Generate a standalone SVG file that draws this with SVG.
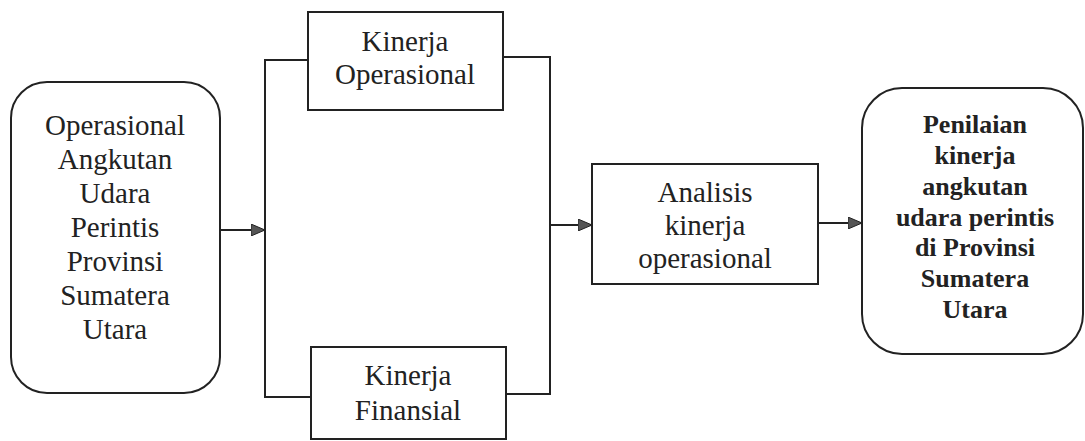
<svg xmlns="http://www.w3.org/2000/svg" width="1085" height="441" viewBox="0 0 1085 441">
<style>
.box{fill:#fff;stroke:#222;stroke-width:2}
.ln{fill:none;stroke:#222;stroke-width:2}
.t{font-family:"Liberation Serif","Times New Roman",serif;font-size:29px;fill:#222;text-anchor:middle}
.b{font-family:"Liberation Serif","Times New Roman",serif;font-size:26px;font-weight:bold;fill:#222;text-anchor:middle}
</style>
<defs>
<marker id="ah" markerWidth="14" markerHeight="12" refX="14" refY="6" orient="auto" markerUnits="userSpaceOnUse">
<path d="M0,0 L14,6 L0,12 Z" fill="#555" stroke="#222" stroke-width="1"/>
</marker>
</defs>
<rect width="1085" height="441" fill="#fff"/>
<g id="connectors">
<line class="ln" x1="220" y1="230" x2="265" y2="230" marker-end="url(#ah)"/>
<polyline class="ln" points="308,60 265,60 265,397 311,397"/>
<polyline class="ln" points="503,57 550,57 550,394 506,394"/>
<line class="ln" x1="550" y1="225" x2="592" y2="225" marker-end="url(#ah)"/>
<line class="ln" x1="818" y1="223" x2="862" y2="223" marker-end="url(#ah)"/>
</g>
<g id="n-source">
<rect class="box" x="11" y="82" width="209" height="311" rx="36" ry="36"/>
<text class="t" x="115" y="135">Operasional</text>
<text class="t" x="115" y="169">Angkutan</text>
<text class="t" x="115" y="203">Udara</text>
<text class="t" x="115" y="237">Perintis</text>
<text class="t" x="115" y="271">Provinsi</text>
<text class="t" x="115" y="305">Sumatera</text>
<text class="t" x="115" y="339">Utara</text>
</g>
<g id="n-operasional">
<rect class="box" x="308" y="12" width="195" height="98"/>
<text class="t" x="405" y="51">Kinerja</text>
<text class="t" x="405" y="84">Operasional</text>
</g>
<g id="n-finansial">
<rect class="box" x="311" y="347" width="195" height="92"/>
<text class="t" x="408" y="385">Kinerja</text>
<text class="t" x="408" y="420">Finansial</text>
</g>
<g id="n-analisis">
<rect class="box" x="592" y="164" width="226" height="120"/>
<text class="t" x="705" y="202">Analisis</text>
<text class="t" x="705" y="235">kinerja</text>
<text class="t" x="705" y="268">operasional</text>
</g>
<g id="n-result">
<rect class="box" x="862" y="88" width="221" height="266" rx="40" ry="40"/>
<text class="b" x="975" y="133">Penilaian</text>
<text class="b" x="975" y="164">kinerja</text>
<text class="b" x="975" y="195">angkutan</text>
<text class="b" x="975" y="226">udara perintis</text>
<text class="b" x="975" y="256">di Provinsi</text>
<text class="b" x="975" y="287">Sumatera</text>
<text class="b" x="975" y="318">Utara</text>
</g>
</svg>
